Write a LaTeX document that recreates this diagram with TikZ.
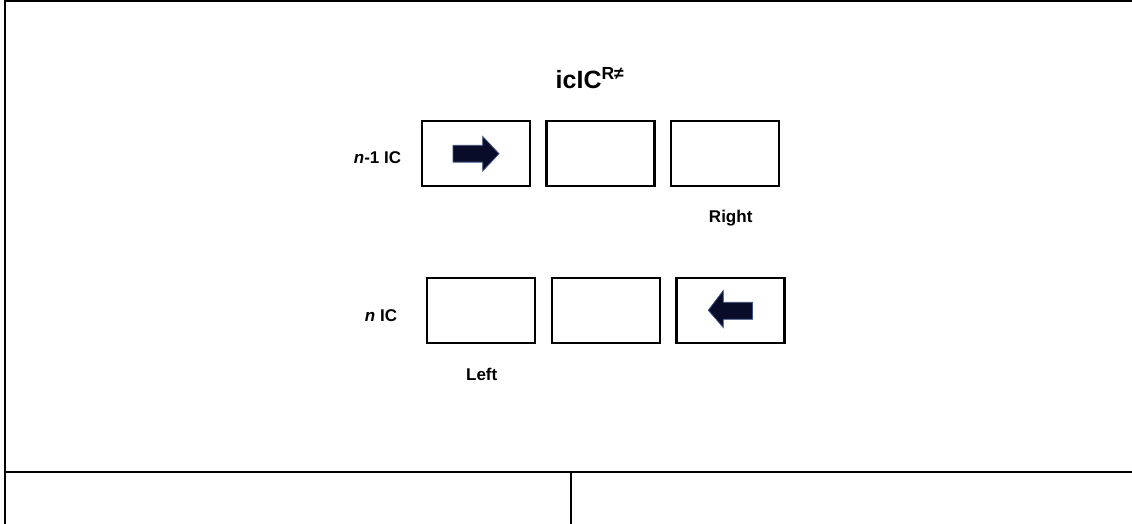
\documentclass[tikz,border=0pt]{standalone}
\usepackage{fontspec}
\setmainfont{Liberation Sans}
\begin{document}
\begin{tikzpicture}[x=1pt,y=-1pt,
  cell/.style={draw=black,line width=2.4pt,minimum width=108pt,minimum height=65pt,inner sep=0pt},
  rule/.style={draw=black,line width=2pt},
  lbl/.style={font=\fontsize{17}{20}\selectfont\bfseries,anchor=base,inner sep=0pt},
  blockarrow/.style={fill={rgb,255:red,8;green,12;blue,40},draw={rgb,255:red,60;green,80;blue,130},line width=0.8pt,line join=miter}]
  \useasboundingbox (0,0) rectangle (1132,524);
  % table frame
  \draw[rule] (5,1) -- (1132,1);
  \draw[rule] (5,0) -- (5,524);
  \draw[rule] (5,471.7) -- (1132,471.7);
  \draw[rule] (571,471.7) -- (571,524);
  % title
  \node[font=\fontsize{25}{30}\selectfont\bfseries,anchor=base,inner sep=0pt] (title) at (590,89)
    {icIC\textsuperscript{R≠}};
  % upper row of cells
  \node[cell] (a1) at (475.7,153.7) {};
  \node[cell] (a2) at (600.3,153.7) {};
  \node[cell] (a3) at (724.7,153.7) {};
  % lower row of cells
  \node[cell] (b1) at (481,310.7) {};
  \node[cell] (b2) at (605.7,310.7) {};
  \node[cell] (b3) at (730.3,310.7) {};
  % row labels
  \node[lbl] (la) at (377.5,163.3) {\textit{n}-1 IC};
  \node[lbl] (lb) at (381,321) {\textit{n} IC};
  \node[lbl] (right) at (730.7,222.7) {Right};
  \node[lbl] (left) at (481.7,380) {Left};
  % block arrow pointing right
  \draw[blockarrow] (453,145.3) -- (482.7,145.3) -- (482.7,136.5) -- (499,153.7)
    -- (482.7,171) -- (482.7,162.1) -- (453,162.1) -- cycle;
  % block arrow pointing left
  \draw[blockarrow] (752.5,302.3) -- (723.3,302.3) -- (723.3,290.5) -- (708.3,310.3)
    -- (723.3,327.5) -- (723.3,319.3) -- (752.5,319.3) -- cycle;
\end{tikzpicture}
\end{document}
